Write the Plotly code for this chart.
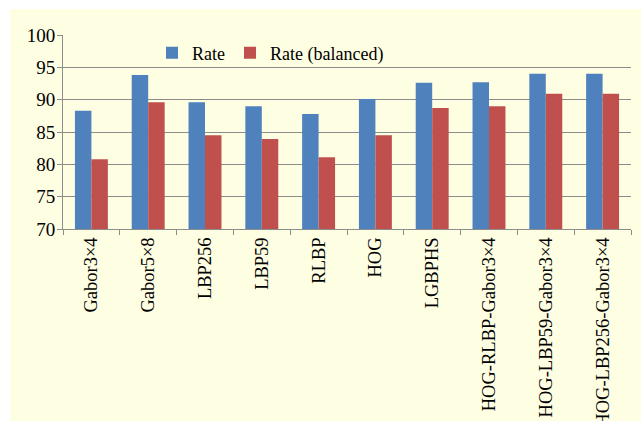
import plotly.graph_objects as go

categories = ["Gabor3×4", "Gabor5×8", "LBP256", "LBP59", "RLBP", "HOG", "LGBPHS",
              "HOG-RLBP-Gabor3×4", "HOG-LBP59-Gabor3×4", "HOG-LBP256-Gabor3×4"]
rate = [88.3, 93.8, 89.6, 89.0, 87.8, 90.1, 92.6, 92.7, 94.0, 94.0]
rate_balanced = [80.8, 89.6, 84.5, 83.9, 81.1, 84.5, 88.7, 89.0, 90.9, 90.9]
y_ticks = [70, 75, 80, 85, 90, 95, 100]

W, H = 641, 421
L, R, T, B = 63, 10, 35, 192
pw, ph = W - L - R, H - T - B

def px_x(p):
    return (p - L) / pw

def px_y(p):
    return (H - B - p) / ph

font_family = "Liberation Serif, Times New Roman, serif"

fig = go.Figure()
fig.add_trace(go.Bar(x=categories, y=rate, name="Rate", marker_color="#4F81BD",
                     marker_line_width=0))
fig.add_trace(go.Bar(x=categories, y=rate_balanced, name="Rate (balanced)",
                     marker_color="#C0504D", marker_line_width=0))

fig.update_layout(
    width=W, height=H,
    margin=dict(l=L, r=R, t=T, b=B, pad=0, autoexpand=False),
    paper_bgcolor="white",
    plot_bgcolor="white",
    barmode="group",
    bargap=0.42,
    bargroupgap=0,
    font=dict(family=font_family, size=19, color="black"),
    legend=dict(orientation="h", x=px_x(152), y=px_y(53), xanchor="left", yanchor="middle",
                bgcolor="rgba(0,0,0,0)", font=dict(size=18), itemwidth=30,
                traceorder="normal"),
    shapes=[dict(type="rect", xref="paper", yref="paper", layer="below",
                 x0=px_x(10), x1=px_x(641), y0=px_y(421), y1=px_y(9),
                 fillcolor="#FEFEE3", line_width=0)],
)
fig.update_yaxes(range=[70, 100], tickvals=y_ticks, showgrid=True, gridcolor="#8C8C8C",
                 gridwidth=1, showline=True, linecolor="#8C8C8C", linewidth=1,
                 ticks="outside", ticklen=5, tickcolor="#8C8C8C", zeroline=False,
                 tickfont=dict(size=19), automargin=False, ticklabelstandoff=-2)
fig.update_xaxes(tickangle=-90, showline=True, linecolor="#8C8C8C", linewidth=1,
                 ticks="outside", ticklen=5, tickcolor="#8C8C8C", tickson="boundaries",
                 showgrid=False, tickfont=dict(size=18.5), automargin=False)

fig.write_html("out.html")
